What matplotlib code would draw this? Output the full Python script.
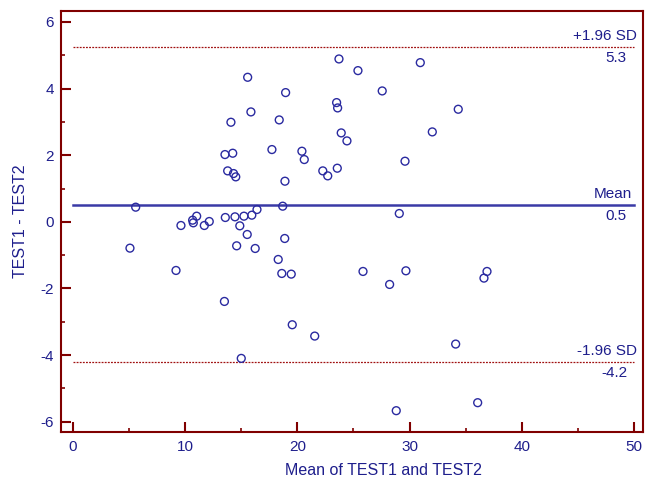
import matplotlib
matplotlib.use("Agg")
import matplotlib.pyplot as plt
from matplotlib.ticker import MultipleLocator

plt.rcParams['font.family'] = ['Liberation Sans', 'DejaVu Sans']
plt.rcParams['axes.unicode_minus'] = False

# Mean of TEST1 and TEST2 (x) and TEST1 - TEST2 (y)
mean_vals = [15.58, 23.71, 25.40, 30.95, 18.96, 27.56, 23.50, 23.59, 34.33, 15.87,
             14.09, 18.39, 32.02, 23.91, 24.42, 17.74, 13.56, 14.25, 20.41, 20.62,
             29.59, 13.80, 14.32, 14.52, 22.27, 22.71, 23.56, 18.90, 18.70, 29.08,
             5.61,
             9.64, 10.68, 10.74, 11.04, 11.72, 12.16, 13.59, 14.45, 15.25, 14.88,
             15.95, 16.41, 15.54, 14.60, 16.25, 18.88, 18.30, 18.62, 19.46, 9.20,
             5.10, 13.51, 19.55, 21.55, 15.01, 25.85, 29.67, 28.22, 36.89, 36.62,
             34.10, 36.06, 28.81]
diff_vals = [4.34, 4.89, 4.54, 4.78, 3.88, 3.93, 3.58, 3.42, 3.38, 3.30,
             2.99, 3.06, 2.70, 2.67, 2.43, 2.17, 2.02, 2.06, 2.12, 1.87,
             1.82, 1.53, 1.45, 1.35, 1.53, 1.38, 1.61, 1.22, 0.47, 0.25,
             0.44,
             -0.11, 0.05, -0.03, 0.17, -0.11, 0.01, 0.13, 0.15, 0.17, -0.12,
             0.20, 0.37, -0.38, -0.72, -0.80, -0.50, -1.13, -1.55, -1.57, -1.46,
             -0.79, -2.39, -3.09, -3.43, -4.10, -1.49, -1.47, -1.88, -1.49, -1.69,
             -3.67, -5.43, -5.67]

mean_diff = 0.5
upper_sd = 5.26
lower_sd = -4.22
line_labels = ["+1.96 SD", "Mean", "-1.96 SD"]
value_labels = ["5.3", "0.5", "-4.2"]

navy = '#1e1e8c'
dred = '#800000'

fig = plt.figure(figsize=(6.54, 4.82), dpi=100)
ax = fig.add_axes([61/654, 50/482, 582/654, 421/482])

ax.scatter(mean_vals, diff_vals, s=32, facecolors='none', edgecolors='#2a2aa0',
           linewidths=1.0, zorder=3)

ax.plot([0, 50], [mean_diff, mean_diff], color='#3a3aa6', lw=1.8, zorder=2)
ax.plot([0, 50], [upper_sd, upper_sd], color='#a01010', lw=0.9, ls=(0, (1.5, 1)), zorder=2)
ax.plot([0, 50], [lower_sd, lower_sd], color='#a01010', lw=0.9, ls=(0, (1.5, 1)), zorder=2)

fs = 11
ax.text(50.25, upper_sd + 0.12, line_labels[0], ha='right', va='bottom', color=navy, fontsize=fs)
ax.text(49.3, upper_sd - 0.12, value_labels[0], ha='right', va='top', color=navy, fontsize=fs)
ax.text(49.8, mean_diff + 0.12, line_labels[1], ha='right', va='bottom', color=navy, fontsize=fs)
ax.text(49.3, mean_diff - 0.12, value_labels[1], ha='right', va='top', color=navy, fontsize=fs)
ax.text(50.25, lower_sd + 0.12, line_labels[2], ha='right', va='bottom', color=navy, fontsize=fs)
ax.text(49.4, lower_sd - 0.12, value_labels[2], ha='right', va='top', color=navy, fontsize=fs)

ax.set_xlim(-1.04, 50.78)
ax.set_ylim(-6.31, 6.33)

ax.xaxis.set_major_locator(MultipleLocator(10))
ax.xaxis.set_minor_locator(MultipleLocator(5))
ax.yaxis.set_major_locator(MultipleLocator(2))
ax.yaxis.set_minor_locator(MultipleLocator(1))

for s in ax.spines.values():
    s.set_color(dred)
    s.set_linewidth(1.5)

ax.tick_params(axis='both', which='both', direction='in', colors=dred,
               labelcolor=navy, labelsize=fs)
ax.tick_params(axis='both', which='major', length=7, width=1.5)
ax.tick_params(axis='both', which='minor', length=3.2, width=1.2)
ax.tick_params(axis='x', which='major', pad=6)
ax.tick_params(axis='y', which='major', pad=5)

ax.set_xlabel("Mean of TEST1 and TEST2", color=navy, fontsize=11.5)
ax.set_ylabel("TEST1 - TEST2", color=navy, fontsize=11.5)
ax.xaxis.set_label_coords((383 - 61) / 582, -(463 - 432) / 421)
ax.yaxis.set_label_coords(-(61 - 28) / 582, 0.5)

fig.savefig("out.png", dpi=100)
